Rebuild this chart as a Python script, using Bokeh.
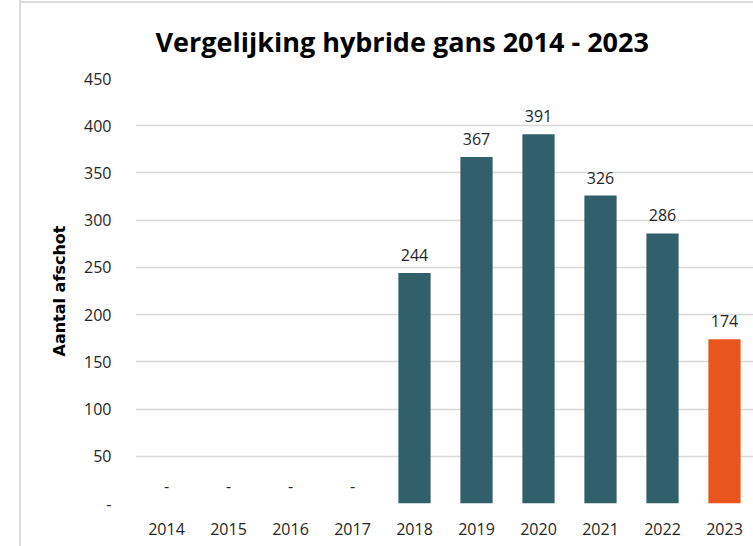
from bokeh.plotting import figure
from bokeh.models import Range1d, FixedTicker, ColumnDataSource
from bokeh.embed import file_html
from bokeh.resources import INLINE
from bokeh.core.properties import value

years = ["2014", "2015", "2016", "2017", "2018", "2019", "2020", "2021", "2022", "2023"]
counts = [0, 0, 0, 0, 244, 367, 391, 326, 286, 174]
bar_colors = ["#31606b"] * 9 + ["#e8561e"]
labels = ["-" if c == 0 else str(c) for c in counts]
y_ticks = [0, 50, 100, 150, 200, 250, 300, 350, 400, 450]
title_text = "Vergelijking hybride gans 2014 - 2023"
y_title = "Aantal afschot"

xs = list(range(len(years)))
src = ColumnDataSource(dict(x=xs, top=counts, color=bar_colors, label=labels))

FONT = "Open Sans"

p = figure(width=753, height=546, output_backend="svg", toolbar_location=None,
           x_range=Range1d(-0.5, 9.5 - 2 / 62), y_range=Range1d(0, 450),
           min_border_left=135, min_border_right=0, min_border_top=78, min_border_bottom=43)
p.border_fill_alpha = 0
p.styles = {"background": "linear-gradient(to right, transparent 19px, #dcdcdc 19px, #dcdcdc 21px, transparent 21px), "
                          "linear-gradient(to bottom, transparent 1px, #dcdcdc 1px, #dcdcdc 3px, white 3px)",
            "background-size": "100% 100%, calc(100% - 19px) 100%",
            "background-position": "0 0, 19px 0",
            "background-repeat": "no-repeat"}
p.outline_line_color = None
p.background_fill_color = "white"

p.vbar(x="x", top="top", width=0.52, bottom=0, color="color", line_color=None, source=src)
p.text(x="x", y="top", text="label", source=src, text_align="center", text_baseline="bottom",
       y_offset=-12, text_font=value(FONT), text_font_size="16px", text_color="#262626")

p.xaxis.ticker = FixedTicker(ticks=xs)
p.xaxis.major_label_overrides = {i: y for i, y in enumerate(years)}
p.yaxis.ticker = FixedTicker(ticks=y_ticks)
p.yaxis.major_label_overrides = {0: "-"}
for ax in (p.xaxis[0], p.yaxis[0]):
    ax.axis_line_color = None
    ax.major_tick_line_color = None
    ax.minor_tick_line_color = None
    ax.major_label_text_font = FONT
    ax.major_label_text_font_size = "16px"
    ax.major_label_text_color = "#262626"
p.xaxis.major_label_standoff = 13
p.yaxis.major_label_standoff = 18
p.yaxis.axis_label = y_title
p.yaxis.axis_label_text_font = "DejaVu Sans"
p.yaxis.axis_label_text_font_style = "bold"
p.yaxis.axis_label_text_font_size = "16px"
p.yaxis.axis_label_text_color = "#000000"
p.yaxis.axis_label_standoff = 12

p.xgrid.grid_line_color = None
p.ygrid.ticker = FixedTicker(ticks=y_ticks)
p.ygrid.grid_line_color = "#d9d9d9"
p.ygrid.grid_line_width = 1.5

p.title.text = title_text
p.title.align = "left"
p.title.offset = 20
p.title.standoff = 38
p.title.text_font = FONT
p.title.text_font_style = "bold"
p.title.text_font_size = "27px"
p.title.text_color = "#000000"

open("out.html", "w").write(file_html(p, INLINE))
